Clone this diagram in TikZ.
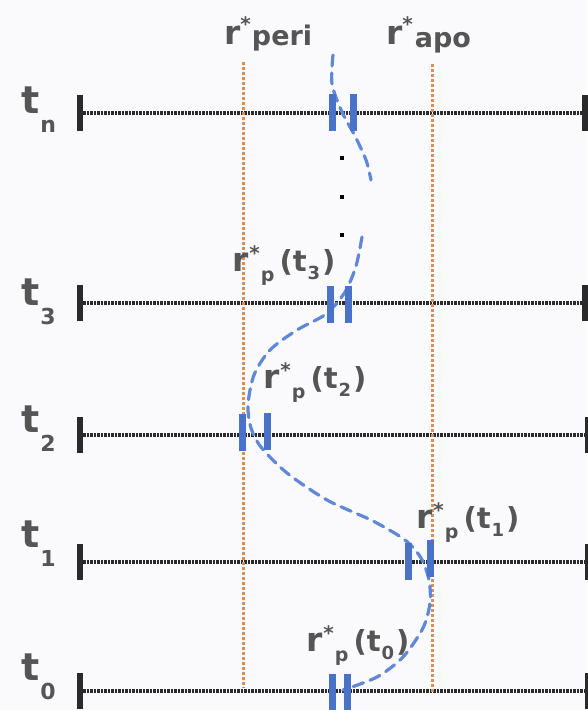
\documentclass[tikz,border=0pt]{standalone}
\usepackage{fontspec}
\setmainfont{DejaVu Sans}
\newfontfamily\lblfont{DejaVu Sans}
\definecolor{txt}{HTML}{555555}
\definecolor{blu}{HTML}{4A72C8}
\definecolor{bluc}{HTML}{5F88D8}
\definecolor{org}{HTML}{D98F55}
\definecolor{tl}{HTML}{2A2A2A}
\definecolor{bg}{HTML}{FAFAFD}
\newcommand{\fsz}[1]{\fontsize{#1}{#1}\selectfont}
\newcommand{\rplab}[1]{{\fsz{33}r}\kern1pt\raisebox{11pt}{\fsz{20}*}\kern1pt\raisebox{-10pt}{\fsz{19}p}\kern5pt{\fsz{29}(t\kern1pt\raisebox{-8pt}{\fsz{18}#1}\kern2pt)}}
\newcommand{\tlab}[1]{{\fsz{38}t}\kern1pt\raisebox{-19pt}{\fsz{22}#1}}
\begin{document}
\begin{tikzpicture}[x=1pt,y=-1pt,
  timeline/.style={draw=tl, line width=3.8pt, dash pattern=on 2.3pt off 1.2pt},
  endbar/.style={fill=tl, draw=none, minimum width=6pt, minimum height=36pt, inner sep=0pt},
  posbar/.style={fill=blu, draw=none, minimum width=7pt, minimum height=37pt, inner sep=0pt},
  refline/.style={draw=org, line width=3pt, dash pattern=on 2.5pt off 2.5pt},
  orbit/.style={draw=bluc, line width=3.2pt, dash pattern=on 11pt off 7pt, line cap=round},
  lab/.style={text=txt, inner sep=0pt, anchor=base west, font=\lblfont\bfseries},
  dotnode/.style={fill=black, draw=none, minimum size=4.5pt, inner sep=0pt}]
\fill[bg] (0,0) rectangle (587,710);
\useasboundingbox (0,0) rectangle (587,710);
% time lines
\foreach \n/\y/\rx/\ly in {n/113/585/113, 3/303/585/305, 2/435/588/432, 1/562/588/547, 0/691/588/680}{
  \node[endbar] (L\n) at (80,\y) {};
  \node[endbar] (R\n) at (\rx,\y) {};
  \draw[timeline] (L\n.east) -- (R\n.west);
  \node[lab] (T\n) at (21,\ly) {\tlab{\n}};
}
% reference lines
\coordinate (peritop) at (243,62);
\coordinate (peribot) at (243,688);
\coordinate (apotop) at (432,64);
\coordinate (apobot) at (432,693);
\draw[refline] (peritop) -- (peribot);
\draw[refline] (apotop) -- (apobot);
\node[lab] (peri) at (224,44) {{\fsz{33}r}\raisebox{13pt}{\fsz{20}*}\kern1pt\raisebox{-1pt}{\fsz{27}peri}};
\node[lab] (apo) at (386,44) {{\fsz{33}r}\raisebox{13pt}{\fsz{20}*}\kern2pt\raisebox{-3pt}{\fsz{27}apo}};
% orbit
\coordinate (a1) at (333,55);
\coordinate (a2) at (332,84);
\coordinate (a3) at (342,112);
\coordinate (a4) at (355,136);
\coordinate (a5) at (366,160);
\coordinate (a6) at (371,180);
\draw[orbit] plot[smooth] coordinates {(a1) (a2) (a3) (a4) (a5) (a6)};
\node[dotnode] (d1) at (342,158) {};
\node[dotnode] (d2) at (342,197) {};
\node[dotnode] (d3) at (342,235) {};
\draw[orbit] plot[smooth] coordinates {(362,237) (356,266) (345,292) (326,314) (297,330) (270,350) (254,375) (248,405) (251,428) (261,447) (287,473) (327,500) (373,521) (405,540) (421,558) (429,580) (430,603) (423,628) (403,657) (377,677) (343,690)};
% position bars
\node[posbar] (bn1) at (332,112) {};
\node[posbar] (bn2) at (353,112) {};
\node[posbar] (b31) at (330,304) {};
\node[posbar] (b32) at (348,304) {};
\node[posbar] (b21) at (242,432) {};
\node[posbar] (b22) at (267,431) {};
\node[posbar] (b11) at (408,561) {};
\node[posbar] (b12) at (430,558) {};
\node[posbar] (b01) at (332,692) {};
\node[posbar] (b02) at (347,692) {};
% labels
\node[lab] (l3) at (232,271) {\rplab{3}};
\node[lab] (l2) at (263,388) {\rplab{2}};
\node[lab] (l1) at (416,528) {\rplab{1}};
\node[lab] (l0) at (306,651) {\rplab{0}};
\end{tikzpicture}
\end{document}
